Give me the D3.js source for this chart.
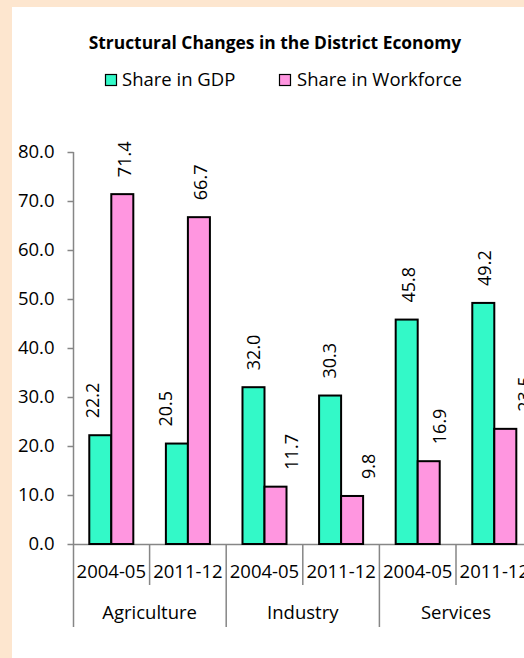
<!DOCTYPE html>
<html><head><meta charset="utf-8">
<script src="https://cdn.jsdelivr.net/npm/d3@7"></script>
<style>
html,body{margin:0;padding:0;background:#FDE6CF;overflow:hidden;}
svg{display:block;}
text{font-family:"Open Sans",sans-serif;fill:#000;}
</style></head>
<body>
<script>
// ---- data ----
const title = "Structural Changes in the District Economy";
const seriesNames = ["Share in GDP", "Share in Workforce"];
const sectors = ["Agriculture", "Industry", "Services"];
const years = ["2004-05", "2011-12"];
const gdpShare = [22.2, 20.5, 32.0, 30.3, 45.8, 49.2];
const workforceShare = [71.4, 66.7, 11.7, 9.8, 16.9, 23.5];
const yTicks = [0, 10, 20, 30, 40, 50, 60, 70, 80];
// manual label nudges (px, horizontal) as placed in the original
const gdpLabelNudge = [-8, -11, 0, 0, 2, 1];
const wfLabelNudge = [2, 2, 16, 17, 11, 19];

const colors = ["#33F9C8", "#FF96E0"];
const W = 524, H = 658;
const FS = "18.5px";

const cats = [];
sectors.forEach(s => years.forEach(y => cats.push({sector: s, year: y, key: s + "|" + y})));
const rows = cats.map((c, i) => ({...c, values: [gdpShare[i], workforceShare[i]], nudges: [gdpLabelNudge[i], wfLabelNudge[i]]}));

const svg = d3.select("body").append("svg").attr("width", W).attr("height", H);
svg.append("rect").attr("x", 12).attr("y", 7).attr("width", W).attr("height", H).attr("fill", "#fff");

const x0 = d3.scaleBand().domain(cats.map(c => c.key)).range([73, 73 + 76.6 * 6]).padding(0);
const x1 = d3.scaleBand().domain([0, 1]).range([0, x0.bandwidth()]).paddingInner(0).paddingOuter(0.74);
const y = d3.scaleLinear().domain([0, 80]).range([544, 152]);

// title
svg.append("text").attr("x", 275).attr("y", 49).attr("text-anchor", "middle")
  .style("font-weight", "bold").style("font-size", "17.4px").text(title);

// legend
const leg = [{x: 105, tx: 122}, {x: 279, tx: 297}];
seriesNames.forEach((n, i) => {
  svg.append("rect").attr("x", leg[i].x + 0.5).attr("y", 74.5).attr("width", 11).attr("height", 11)
    .attr("fill", colors[i]).attr("stroke", "#000").attr("stroke-width", 1.2);
  svg.append("text").attr("x", leg[i].tx).attr("y", 86).style("font-size", FS).text(n);
});

// y axis
const yAxis = d3.axisLeft(y).tickValues(yTicks).tickSize(6).tickPadding(13).tickFormat(d3.format(".1f"));
const ga = svg.append("g").attr("transform", "translate(73.5,0)").call(yAxis);
ga.select(".domain").remove();
ga.selectAll(".tick line").attr("stroke", "#868686").attr("stroke-width", 1.5);
ga.selectAll(".tick text").style("font-size", FS).style("font-family", "Open Sans").attr("fill", "#000");

const axisColor = "#868686";
svg.append("line").attr("x1", 73.5).attr("x2", 73.5).attr("y1", y(80)).attr("y2", 627)
  .attr("stroke", axisColor).attr("stroke-width", 1.5);
svg.append("line").attr("x1", 73).attr("x2", x0.range()[1]).attr("y1", 544.5).attr("y2", 544.5)
  .attr("stroke", axisColor).attr("stroke-width", 1.5);

// category separators
cats.forEach((c, i) => {
  if (i === 0) return;
  const xs = x0(c.key);
  const major = c.year === years[0];
  svg.append("line").attr("x1", xs).attr("x2", xs).attr("y1", 544.5).attr("y2", major ? 627 : 585)
    .attr("stroke", axisColor).attr("stroke-width", 1.5);
});
{
  const xe = x0.range()[1];
  svg.append("line").attr("x1", xe).attr("x2", xe).attr("y1", 544.5).attr("y2", 627)
    .attr("stroke", axisColor).attr("stroke-width", 1.5);
}

// year labels
svg.append("g").selectAll("text").data(rows).join("text")
  .attr("x", d => x0(d.key) + x0.bandwidth() / 2).attr("y", 578)
  .attr("text-anchor", "middle").style("font-size", FS).text(d => d.year);
// sector labels
sectors.forEach((s, i) => {
  const a = x0(s + "|" + years[0]), b = x0(s + "|" + years[1]) + x0.bandwidth();
  svg.append("text").attr("x", (a + b) / 2).attr("y", 619).attr("text-anchor", "middle")
    .style("font-size", FS).text(s);
});

// bars
const g = svg.append("g").selectAll("g").data(rows).join("g")
  .attr("transform", d => `translate(${x0(d.key)},0)`);
g.selectAll("rect").data(d => d.values.map((v, i) => ({v, i}))).join("rect")
  .attr("x", d => x1(d.i)).attr("width", x1.bandwidth())
  .attr("y", d => y(d.v)).attr("height", d => y(0) - y(d.v))
  .attr("fill", d => colors[d.i]).attr("stroke", "#000").attr("stroke-width", 2);

// data labels
g.selectAll("text").data(d => d.values.map((v, i) => ({v, i, n: d.nudges[i]}))).join("text")
  .attr("transform", d => `translate(${x1(d.i) + x1.bandwidth() / 2 + d.n},${y(d.v) - 17}) rotate(-90)`)
  .attr("dy", "0.35em").style("font-size", "18px").text(d => d.v.toFixed(1));
</script>
</body></html>
